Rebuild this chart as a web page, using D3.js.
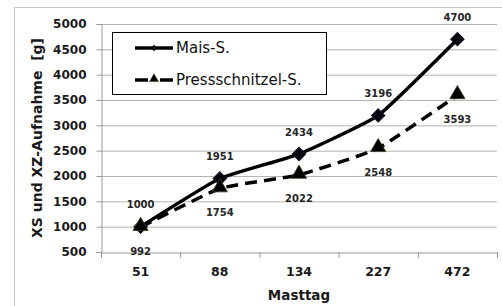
<!DOCTYPE html>
<html><head><meta charset="utf-8">
<script src="https://cdn.jsdelivr.net/npm/d3@7/dist/d3.min.js"></script>
<style>body{margin:0;background:#fff}svg{display:block}text{font-family:"DejaVu Sans",sans-serif}</style>
</head><body><svg id="c" width="502" height="306"></svg>
<script>
const categories = ["51","88","134","227","472"];
const maisValues = [1000,1951,2434,3196,4700];
const pressValues = [992,1754,2022,2548,3593];
const yTicks = [500,1000,1500,2000,2500,3000,3500,4000,4500,5000];
const seriesNames = ["Mais-S.","Pressschnitzel-S."];

const svg = d3.select("#c");
const L=101,R=497,T=24,B=252;
svg.append("rect").attr("x",14.5).attr("y",7.5).attr("width",600).attr("height",400)
  .attr("fill","#fff").attr("stroke","#c8c8c8");

const x = d3.scaleBand().domain(categories).range([L,R]);
const y = d3.scaleLinear().domain([500,5000]).range([B,T]);
const cx = d => x(d)+x.bandwidth()/2;

// gridlines
svg.append("g").selectAll("line").data(yTicks.filter(v=>v>500)).join("line")
  .attr("x1",L).attr("x2",R).attr("y1",d=>y(d)+0.5).attr("y2",d=>y(d)+0.5)
  .attr("stroke","#b4b4b4").attr("stroke-width",1);

// y axis
const ya = svg.append("g").attr("transform",`translate(${L+0.5},0)`)
  .call(d3.axisLeft(y).tickValues(yTicks).tickSize(5).tickPadding(10).tickFormat(d3.format("d")));
ya.select(".domain").attr("stroke","#999");
ya.selectAll(".tick line").attr("stroke","#999");
ya.selectAll("text").attr("font-size","12px").attr("font-weight","bold").attr("fill","#1a1a1a");

// x axis
const xa = svg.append("g").attr("transform",`translate(0,${B+0.5})`)
  .call(d3.axisBottom(x).tickSize(0).tickPadding(15));
xa.select(".domain").attr("stroke","#999");
xa.selectAll("text").attr("font-size","12.5px").attr("font-weight","bold").attr("fill","#1a1a1a");
// band boundary ticks
svg.append("g").selectAll("line").data(d3.range(categories.length+1)).join("line")
  .attr("x1",i=>L+i*x.step()+0.5).attr("x2",i=>L+i*x.step()+0.5)
  .attr("y1",B).attr("y2",B+6).attr("stroke","#999");

// titles
svg.append("text").attr("x",299).attr("y",300).attr("text-anchor","middle")
  .attr("font-size","13.5px").attr("font-weight","bold").attr("fill","#1a1a1a").text("Masttag");
svg.append("text").attr("transform","translate(42,138) rotate(-90)").attr("text-anchor","middle")
  .attr("font-size","14px").attr("font-weight","bold").attr("fill","#1a1a1a")
  .attr("xml:space","preserve").style("white-space","pre").text("XS und XZ-Aufnahme  [g]");

const line = d3.line().x((d,i)=>cx(categories[i])).y(d=>y(d)).curve(d3.curveCardinal.tension(0.6));
svg.append("path").attr("d",line(pressValues)).attr("fill","none").attr("stroke","#000")
  .attr("stroke-width",3.5).attr("stroke-dasharray","12,7");
svg.append("path").attr("d",line(maisValues)).attr("fill","none").attr("stroke","#000")
  .attr("stroke-width",3.5);

const diamond = d3.symbol().type(d3.symbolSquare).size(90);
svg.append("g").selectAll("path").data(maisValues).join("path")
  .attr("d",diamond).attr("transform",(d,i)=>`translate(${cx(categories[i])},${y(d)}) rotate(45)`)
  .attr("fill","#05050c").attr("stroke","#15152a").attr("stroke-width",1);
const tri = d3.symbol().type(d3.symbolTriangle).size(100);
svg.append("g").selectAll("path").data(pressValues).join("path")
  .attr("d",tri).attr("transform",(d,i)=>`translate(${cx(categories[i])},${y(d)-1})`)
  .attr("fill","#000").attr("stroke","#3a3a14").attr("stroke-width",0.8);

// data labels
const lab = svg.append("g").attr("font-size","10px").attr("font-weight","bold").attr("fill","#262626")
  .attr("text-anchor","middle");
lab.selectAll("text.m").data(maisValues).join("text").attr("class","m")
  .attr("x",(d,i)=>cx(categories[i])).attr("y",d=>y(d)-22).attr("dy","0.35em").text(d=>d);
lab.selectAll("text.p").data(pressValues).join("text").attr("class","p")
  .attr("x",(d,i)=>cx(categories[i])).attr("y",d=>y(d)+24).attr("dy","0.35em").text(d=>d);

// legend
const lg = svg.append("g");
lg.append("rect").attr("x",112.5).attr("y",32.5).attr("width",214).attr("height",62)
  .attr("fill","#fff").attr("stroke","#000").attr("stroke-width",1);
lg.append("line").attr("x1",135).attr("x2",173).attr("y1",48).attr("y2",48).attr("stroke","#000").attr("stroke-width",3.5);
lg.append("path").attr("d",d3.symbol().type(d3.symbolSquare).size(22)).attr("transform","translate(154,48) rotate(45)").attr("fill","#0a0a14");
lg.append("line").attr("x1",135).attr("x2",148).attr("y1",80).attr("y2",80).attr("stroke","#000").attr("stroke-width",3.5);
lg.append("line").attr("x1",160).attr("x2",173).attr("y1",80).attr("y2",80).attr("stroke","#000").attr("stroke-width",3.5);
lg.append("path").attr("d",d3.symbol().type(d3.symbolTriangle).size(35)).attr("transform","translate(154,79)").attr("fill","#000").attr("stroke","#3a3a14").attr("stroke-width",0.5);
lg.append("text").attr("x",176).attr("y",48).attr("dy","0.36em").attr("font-size","15px").attr("fill","#111").text(seriesNames[0]);
lg.append("text").attr("x",176).attr("y",80).attr("dy","0.36em").attr("font-size","15px").attr("fill","#111").text(seriesNames[1]);
</script></body></html>
